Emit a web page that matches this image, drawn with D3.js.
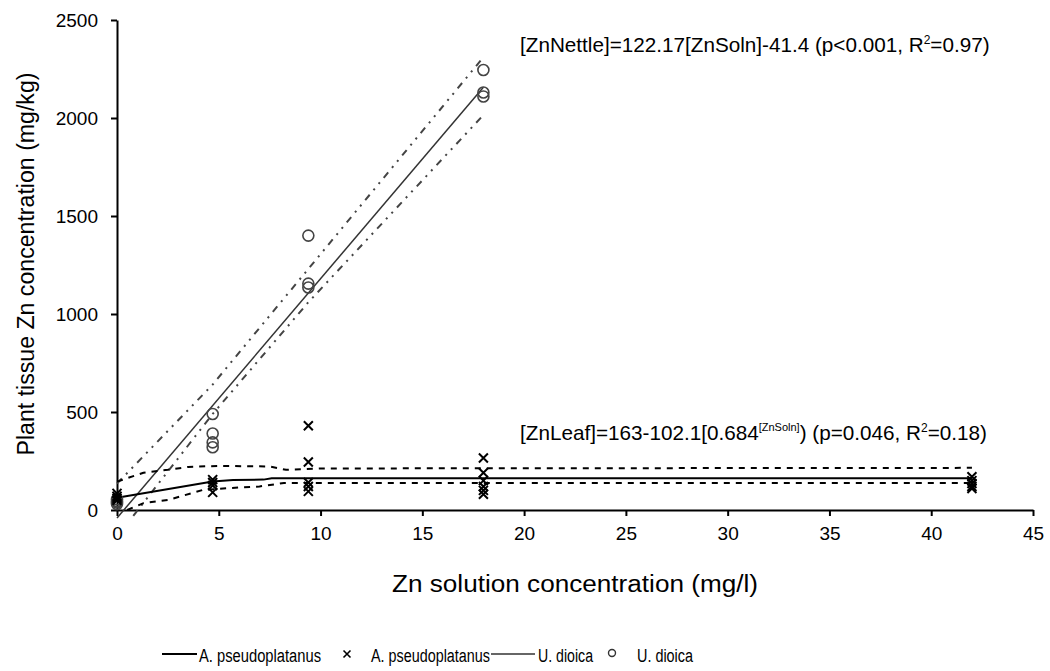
<!DOCTYPE html>
<html><head><meta charset="utf-8">
<script src="https://cdn.jsdelivr.net/npm/d3@7"></script>
<style>body{margin:0;background:#fff;} text{font-family:"Liberation Sans",Arial,sans-serif;}</style>
</head><body>
<svg id="c" width="1050" height="671"></svg>
<script>
// ---- data ----
const xTicks = [0,5,10,15,20,25,30,35,40,45];
const yTicks = [0,500,1000,1500,2000,2500];
// A. pseudoplatanus (crosses)
const acerX = [0,0,0,0, 4.7,4.7,4.7,4.7, 9.4,9.4,9.4,9.4,9.4, 18,18,18,18,18,18, 42,42,42,42,42];
const acerY = [85,70,60,50, 155,140,125,90, 430,245,140,120,95, 265,190,150,120,100,80, 170,150,135,120,110];
// U. dioica (circles)
const urticaX = [0,0,0,0, 4.7,4.7,4.7,4.7, 9.4,9.4,9.4, 18,18,18];
const urticaY = [55,45,38,30, 490,390,345,320, 1400,1155,1135, 2245,2130,2110];
// fitted lines and bands
const leafFitX = [0,4.7,5.7,7.2,7.6,42];
const leafFitY = [63,145,153,155,162,162];
const leafUpX = [0,1.3,2.5,3.5,5,7.5,8.3,10,42];
const leafUpY = [145,190,205,220,225,222,205,212,215];
const leafLoX = [0.5,1.3,2.5,4.2,5.5,7,8.2,42];
const leafLoY = [0,35,51,102,112,120,138,138];
const nettleFitX = [0,18];
const nettleFitY = [-41,2157];
const nettleUpX = [0,4.7,9.4,18];
const nettleUpY = [135,640,1230,2310];
const nettleLoX = [0.8,4.7,9.4,18];
const nettleLoY = [-30,490,1060,2015];
const legendLabels = ["A. pseudoplatanus","A. pseudoplatanus","U. dioica","U. dioica"];

const svg = d3.select("#c");
const x = d3.scaleLinear().domain([0,45]).range([117,1033]);
const y = d3.scaleLinear().domain([0,2500]).range([510,20]);

// axes
const xAxis = d3.axisBottom(x).tickValues(xTicks).tickFormat(d3.format("d")).tickSize(6).tickPadding(11).tickSizeOuter(0);
const gx = svg.append("g").attr("transform","translate(0,510)").call(xAxis);
const yAxis = d3.axisLeft(y).tickValues(yTicks).tickFormat(d3.format("d")).tickSize(6).tickPadding(13).tickSizeOuter(0);
const gy = svg.append("g").attr("transform","translate(117,0)").call(yAxis);
[gx,gy].forEach(g=>{
  g.select(".domain").attr("stroke","#000").attr("stroke-width",2);
  g.selectAll(".tick line").attr("stroke","#000").attr("stroke-width",2);
  g.selectAll(".tick text").attr("fill","#000").style("font-size","19px").style("font-family","'Liberation Sans',Arial,sans-serif");
});

const line = d3.line().x(d=>x(d[0])).y(d=>y(d[1]));
const zip = (a,b)=>a.map((v,i)=>[v,b[i]]);

const plot = svg.append("g");
// nettle
plot.append("path").attr("d",line(zip(nettleUpX,nettleUpY))).attr("fill","none").attr("stroke","#444").attr("stroke-width",2).attr("stroke-dasharray","7,6,2,6,2,6");
plot.append("path").attr("d",line(zip(nettleLoX,nettleLoY))).attr("fill","none").attr("stroke","#444").attr("stroke-width",2).attr("stroke-dasharray","7,6,2,6,2,6");
plot.append("path").attr("d",line(zip(nettleFitX,nettleFitY))).attr("fill","none").attr("stroke","#333").attr("stroke-width",1.5);
// leaf
plot.append("path").attr("d",line(zip(leafUpX,leafUpY))).attr("fill","none").attr("stroke","#000").attr("stroke-width",2).attr("stroke-dasharray","6,6");
plot.append("path").attr("d",line(zip(leafLoX,leafLoY))).attr("fill","none").attr("stroke","#000").attr("stroke-width",2).attr("stroke-dasharray","6,6");
plot.append("path").attr("d",line(zip(leafFitX,leafFitY))).attr("fill","none").attr("stroke","#000").attr("stroke-width",2);

// circles
plot.selectAll("circle.u").data(zip(urticaX,urticaY)).enter().append("circle")
  .attr("cx",d=>x(d[0])).attr("cy",d=>y(d[1])).attr("r",5.5)
  .attr("fill","none").attr("stroke","#444").attr("stroke-width",1.6);
// crosses
const s=4.5;
plot.selectAll("path.a").data(zip(acerX,acerY)).enter().append("path")
  .attr("d",d=>{const cx=x(d[0]),cy=y(d[1]);return `M${cx-s},${cy-s}L${cx+s},${cy+s}M${cx-s},${cy+s}L${cx+s},${cy-s}`;})
  .attr("stroke","#000").attr("stroke-width",2);

// axis titles
svg.append("text").attr("x",575).attr("y",592).attr("text-anchor","middle").style("font-size","23px")
  .attr("textLength",366).attr("lengthAdjust","spacingAndGlyphs").text("Zn solution concentration (mg/l)");
svg.append("text").attr("transform","translate(34,264) rotate(-90)").attr("text-anchor","middle").style("font-size","23px")
  .attr("textLength",383).attr("lengthAdjust","spacingAndGlyphs").text("Plant tissue Zn concentration (mg/kg)");

// equations
const e1 = svg.append("text").attr("x",520).attr("y",52).style("font-size","20.7px");
e1.append("tspan").text("[ZnNettle]=122.17[ZnSoln]-41.4 (p<0.001, R");
e1.append("tspan").attr("dy",-8).style("font-size","12px").text("2");
e1.append("tspan").attr("dy",8).text("=0.97)");
const e2 = svg.append("text").attr("x",520).attr("y",440).style("font-size","20.7px");
e2.append("tspan").text("[ZnLeaf]=163-102.1[0.684");
e2.append("tspan").attr("dy",-9).style("font-size","11px").text("[ZnSoln]");
e2.append("tspan").attr("dy",9).text(") (p=0.046, R");
e2.append("tspan").attr("dy",-8).style("font-size","12px").text("2");
e2.append("tspan").attr("dy",8).text("=0.18)");

// legend
const ly = 654;
const lg = svg.append("g");
const lt = (xx,w,t)=>lg.append("text").attr("x",xx).attr("y",ly+8).style("font-size","18px").attr("textLength",w).attr("lengthAdjust","spacingAndGlyphs").text(t);
lg.append("line").attr("x1",162).attr("x2",197).attr("y1",ly).attr("y2",ly).attr("stroke","#000").attr("stroke-width",2);
lt(199,122,legendLabels[0]);
lg.append("path").attr("d",`M${347-3.5},${ly-3.5}L${347+3.5},${ly+3.5}M${347-3.5},${ly+3.5}L${347+3.5},${ly-3.5}`).attr("stroke","#000").attr("stroke-width",1.6);
lt(371,119,legendLabels[1]);
lg.append("line").attr("x1",491).attr("x2",535).attr("y1",ly).attr("y2",ly).attr("stroke","#333").attr("stroke-width",1.5);
lt(538,55,legendLabels[2]);
lg.append("circle").attr("cx",612).attr("cy",ly-1).attr("r",3.5).attr("fill","none").attr("stroke","#333").attr("stroke-width",1.4);
lt(637,56,legendLabels[3]);
</script>
</body></html>
